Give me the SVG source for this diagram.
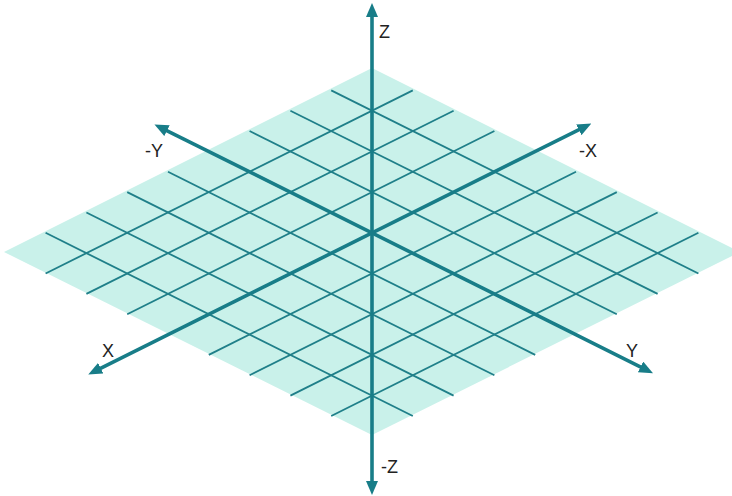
<svg xmlns="http://www.w3.org/2000/svg" width="732" height="496" viewBox="0 0 732 496">
<style>
.plane{fill:#c9f1ea;stroke:none}
.grid line{stroke:#1f7f89;stroke-width:1.8}
.axis{stroke:#187d88;stroke-width:3.6;fill:none}
.lbl{font-family:"Liberation Sans",Arial,sans-serif;font-size:18px;fill:#222}
</style>
<defs>
<marker id="ah" viewBox="0 0 14 12" markerWidth="14" markerHeight="12" refX="2" refY="6" orient="auto-start-reverse" markerUnits="userSpaceOnUse">
<path d="M0,0 L14,6 L0,12 z" fill="#187d88"/>
</marker>
</defs>
<rect width="732" height="496" fill="#ffffff"/>
<g id="plane">
<polygon class="plane" points="372,68 740,252 372,435 4,252"/>
</g>
<g id="grid" class="grid">
<line x1="412.8" y1="90.35" x2="45.6" y2="273.5"/>
<line x1="453.6" y1="110.7" x2="86.4" y2="293.85"/>
<line x1="494.4" y1="131.05" x2="127.2" y2="314.2"/>
<line x1="535.2" y1="151.4" x2="168" y2="334.55"/>
<line x1="576" y1="171.75" x2="208.8" y2="354.9"/>
<line x1="616.8" y1="192.1" x2="249.6" y2="375.25"/>
<line x1="657.6" y1="212.45" x2="290.4" y2="395.6"/>
<line x1="698.4" y1="232.8" x2="331.2" y2="415.95"/>
<line x1="331.2" y1="90.35" x2="698.4" y2="273.5"/>
<line x1="290.4" y1="110.7" x2="657.6" y2="293.85"/>
<line x1="249.6" y1="131.05" x2="616.8" y2="314.2"/>
<line x1="208.8" y1="151.4" x2="576" y2="334.55"/>
<line x1="168" y1="171.75" x2="535.2" y2="354.9"/>
<line x1="127.2" y1="192.1" x2="494.4" y2="375.25"/>
<line x1="86.4" y1="212.45" x2="453.6" y2="395.6"/>
<line x1="45.6" y1="232.8" x2="412.8" y2="415.95"/>
</g>
<g id="connectors">
<line id="axis-z" class="axis" x1="372" y1="15" x2="372" y2="483" marker-start="url(#ah)" marker-end="url(#ah)"/>
<line id="axis-x" class="axis" x1="580.6" y1="128.9" x2="99" y2="369.1" marker-start="url(#ah)" marker-end="url(#ah)"/>
<line id="axis-y" class="axis" x1="165.2" y1="129.8" x2="642.3" y2="367.8" marker-start="url(#ah)" marker-end="url(#ah)"/>
</g>
<g id="labels">
<text class="lbl" x="379" y="38">Z</text>
<text class="lbl" x="381" y="473">-Z</text>
<text class="lbl" x="102" y="357">X</text>
<text class="lbl" x="626" y="357">Y</text>
<text class="lbl" x="145" y="157">-Y</text>
<text class="lbl" x="579" y="157">-X</text>
</g>
</svg>
